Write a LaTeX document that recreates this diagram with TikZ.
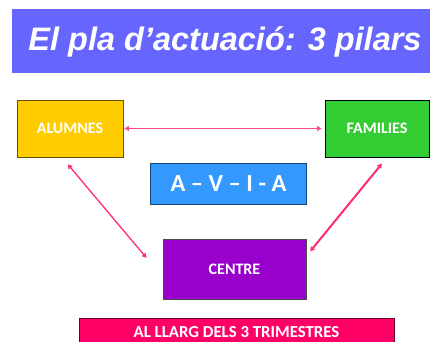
\documentclass[tikz,border=0pt]{standalone}
\usepackage{fontspec}
\setmainfont{Carlito}
\newfontfamily\titlefont{Liberation Sans}
\usetikzlibrary{arrows.meta}

\definecolor{bannerblue}{HTML}{6666FF}
\definecolor{alumnesyellow}{HTML}{FFCC00}
\definecolor{familiesgreen}{HTML}{33CC33}
\definecolor{aviablue}{HTML}{3399FF}
\definecolor{centrepurple}{HTML}{9900CC}
\definecolor{trimpink}{HTML}{FF0066}
\definecolor{linkpink}{HTML}{FF2A7A}
\definecolor{linklight}{HTML}{FF4D8C}

\begin{document}
\begin{tikzpicture}[x=1pt, y=-1pt, >={Triangle[length=4.5pt,width=5pt]},
    pillar/.style={draw, line width=0.8pt, text=white, inner sep=0pt,
        font=\fontsize{16}{19}\selectfont\bfseries},
    link/.style={<->, line width=1.3pt, color=linkpink}]

    \useasboundingbox (0,0) rectangle (430,341);
    \clip (0,0) rectangle (430,341);

    % Title banner
    \node[fill=bannerblue, minimum width=418pt, minimum height=64pt, inner sep=0pt]
        (banner) at (221,41) {};
    \node[text=white, font=\titlefont\fontsize{32.5}{38}\selectfont\bfseries\itshape]
        (title) at (225,42) {El pla d’actuació: 3 pilars};

    % The three pillars
    \node[pillar, fill=alumnesyellow, draw=alumnesyellow!40!black,
        minimum width=106pt, minimum height=57pt] (alumnes) at (70,128.5) {ALUMNES};
    \node[pillar, fill=familiesgreen, draw=black,
        minimum width=104pt, minimum height=57pt] (families) at (377,128.5) {FAMILIES};
    \node[pillar, fill=centrepurple, draw=black!70,
        minimum width=143pt, minimum height=60pt] (centre) at (234.5,269) {CENTRE};

    % A - V - I - A
    \node[pillar, fill=aviablue, draw=aviablue!45!black,
        minimum width=156pt, minimum height=41pt,
        font=\fontsize{24.5}{29}\selectfont\bfseries] (avia) at (228.5,183.5) {A – V – I - A};

    % Bottom bar
    \node[pillar, fill=trimpink, draw=trimpink!40!black,
        minimum width=315pt, minimum height=28pt,
        font=\fontsize{16.8}{20}\selectfont\bfseries] (trimestres) at (236.5,332) {AL LLARG DELS 3 TRIMESTRES};

    % Links
    \draw[link, color=linklight, shorten <=1pt, shorten >=3pt] (alumnes.east) -- (families.west);
    \draw[link, shorten <=9pt, shorten >=25pt] ([xshift=-8pt]alumnes.south) -- ([yshift=-8pt]centre.west);
    \draw[link, line width=2pt, shorten <=8pt, shorten >=6pt] ([xshift=10pt]families.south) -- ([yshift=13pt]centre.east);

\end{tikzpicture}
\end{document}
